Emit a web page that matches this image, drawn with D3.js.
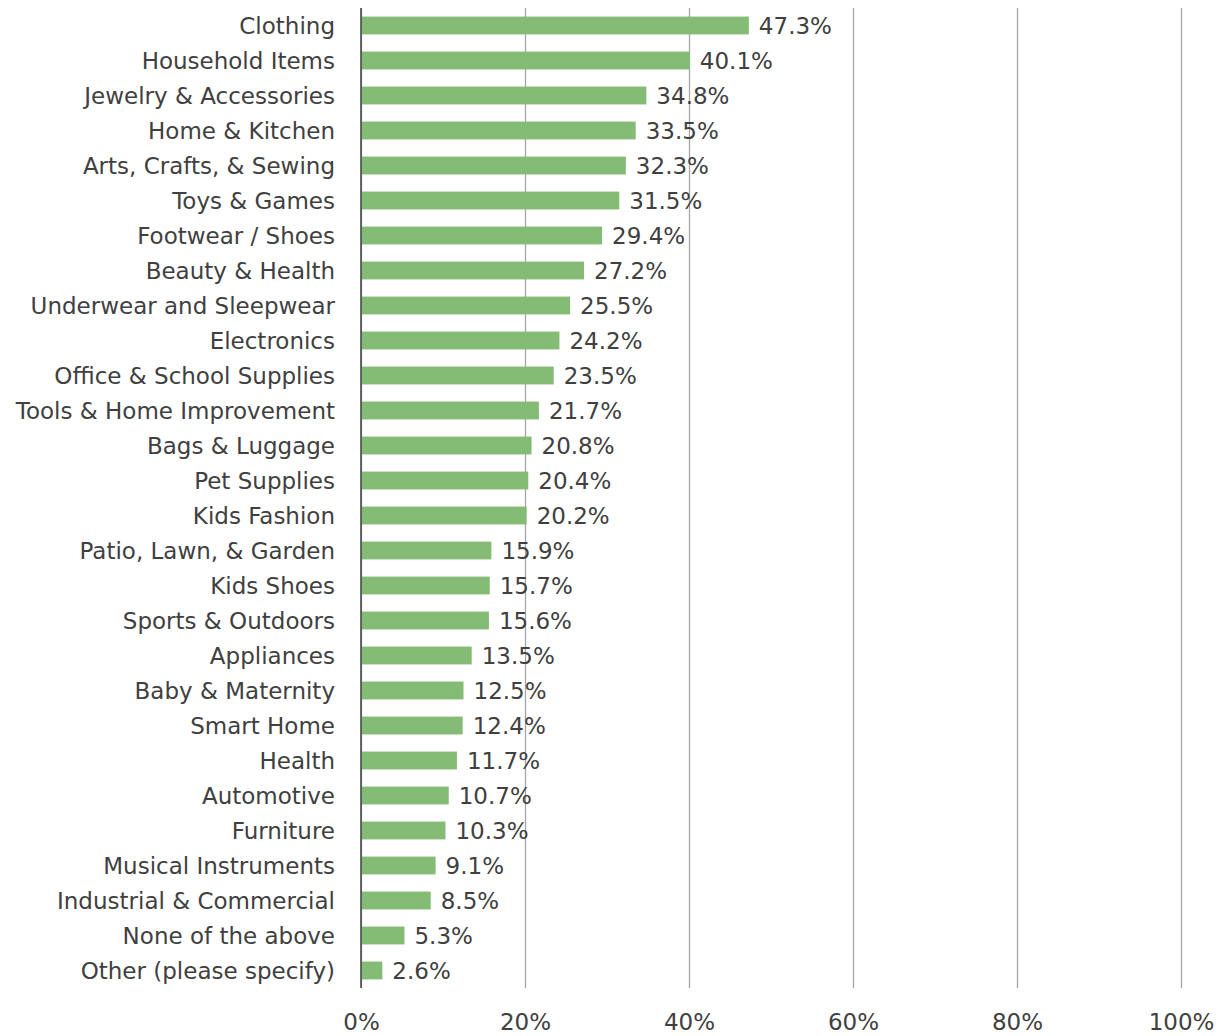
<!DOCTYPE html>
<html>
<head>
<meta charset="utf-8">
<script src="https://cdn.jsdelivr.net/npm/d3@7"></script>
<style>
    body { margin: 0; background: #fff; }
    text { font-family: "DejaVu Sans", sans-serif; fill: #404040; }
</style>
</head>
<body>
<div id="chart"></div>
<script>
// Categories, top to bottom
const categories = [
    "Clothing", "Household Items", "Jewelry & Accessories", "Home & Kitchen",
    "Arts, Crafts, & Sewing", "Toys & Games", "Footwear / Shoes", "Beauty & Health",
    "Underwear and Sleepwear", "Electronics", "Office & School Supplies",
    "Tools & Home Improvement", "Bags & Luggage", "Pet Supplies", "Kids Fashion",
    "Patio, Lawn, & Garden", "Kids Shoes", "Sports & Outdoors", "Appliances",
    "Baby & Maternity", "Smart Home", "Health", "Automotive", "Furniture",
    "Musical Instruments", "Industrial & Commercial", "None of the above",
    "Other (please specify)"
];

// Share of respondents (%)
const shares = [
    47.3, 40.1, 34.8, 33.5, 32.3, 31.5, 29.4, 27.2, 25.5, 24.2, 23.5,
    21.7, 20.8, 20.4, 20.2, 15.9, 15.7, 15.6, 13.5, 12.5, 12.4, 11.7,
    10.7, 10.3, 9.1, 8.5, 5.3, 2.6
];

// X axis ticks (%)
const xTicks = [0, 20, 40, 60, 80, 100];

const data = categories.map((c, i) => ({ category: c, value: shares[i] }));

const width = 1224;
const height = 1036;
const margin = { top: 8, right: 43, bottom: 48, left: 361 };
const innerWidth = width - margin.left - margin.right;
const innerHeight = height - margin.top - margin.bottom;

const xScale = d3.scaleLinear()
    .domain([0, 100])
    .range([0, innerWidth]);

const yScale = d3.scaleBand()
    .domain(categories)
    .range([0, innerHeight])
    .paddingInner(0.49)
    .paddingOuter(0.245);

const svg = d3.select("#chart")
    .append("svg")
    .attr("width", width)
    .attr("height", height);

const innerChart = svg.append("g")
    .attr("transform", `translate(${margin.left},${margin.top})`);

// Gridlines + bottom tick labels
const bottomAxis = d3.axisBottom(xScale)
    .tickValues(xTicks)
    .tickSizeInner(-innerHeight)
    .tickSizeOuter(0)
    .tickPadding(26)
    .tickFormat(d => d + "%");

const xAxisG = innerChart.append("g")
    .attr("transform", `translate(0,${innerHeight})`)
    .call(bottomAxis);
xAxisG.select(".domain").remove();
xAxisG.selectAll("line").attr("stroke", "#a6a6a6").attr("stroke-width", 1.3);
xAxisG.selectAll("text")
    .style("font-size", "23px")
    .attr("fill", "#404040");

// Bars
innerChart.selectAll("rect.bar")
    .data(data)
    .join("rect")
    .attr("class", "bar")
    .attr("x", 0)
    .attr("y", d => yScale(d.category))
    .attr("width", d => xScale(d.value))
    .attr("height", yScale.bandwidth())
    .attr("fill", "#85bc75");

// Value labels
innerChart.selectAll("text.value")
    .data(data)
    .join("text")
    .attr("class", "value")
    .attr("x", d => xScale(d.value) + 10)
    .attr("y", d => yScale(d.category) + yScale.bandwidth() / 2 + 8)
    .style("font-size", "23px")
    .text(d => d.value.toFixed(1) + "%");

// Category axis
const leftAxis = d3.axisLeft(yScale)
    .tickSize(0)
    .tickPadding(26);

const yAxisG = innerChart.append("g")
    .call(leftAxis);
yAxisG.select(".domain")
    .attr("d", `M0,0V${innerHeight}`)
    .attr("stroke", "#404040")
    .attr("stroke-width", 1.5);
yAxisG.selectAll("text")
    .style("font-size", "23px")
    .attr("dy", null)
    .attr("y", 8)
    .attr("fill", "#404040");
</script>
</body>
</html>
